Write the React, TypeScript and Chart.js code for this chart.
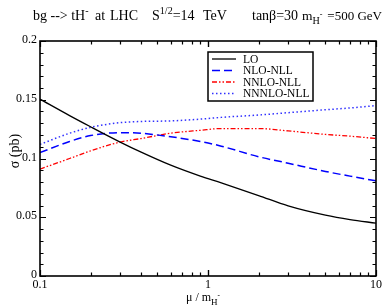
import React, { useEffect, useRef } from "react";
import { Chart, registerables } from "chart.js";

Chart.register(...registerables);

const muValues = [0.1, 0.15, 0.2, 0.3, 0.4, 0.6, 0.9, 1.2, 2, 3, 5, 7, 10];
const loValues = [0.1505, 0.1365, 0.127, 0.114, 0.1054, 0.0943, 0.085, 0.0792, 0.0685, 0.0597, 0.0518, 0.048, 0.045];
const nloValues = [0.105, 0.1145, 0.1195, 0.122, 0.1215, 0.1185, 0.1145, 0.1105, 0.1015, 0.096, 0.089, 0.085, 0.081];
const nnloValues = [0.091, 0.1, 0.1065, 0.114, 0.117, 0.1215, 0.124, 0.1255, 0.1255, 0.1235, 0.1205, 0.119, 0.117];
const nnnloValues = [0.112, 0.1215, 0.1265, 0.1305, 0.1315, 0.132, 0.1335, 0.135, 0.137, 0.139, 0.1415, 0.143, 0.145];

const seriesNames = ["LO", "NLO-NLL", "NNLO-NLL", "NNNLO-NLL"];
const yTickValues = [0, 0.05, 0.1, 0.15, 0.2];
const yTickLabels = ["0", "0.05", "0.1", "0.15", "0.2"];
const xTickValues = [0.1, 1, 10];
const xTickLabels = ["0.1", "1", "10"];

const SERIF = "'Liberation Serif', 'Times New Roman', serif";

type Seg = { t: string; s?: "sup" | "sub" | "supsub" };

function richWidth(ctx: CanvasRenderingContext2D, segs: Seg[], size: number) {
  let w = 0;
  for (const seg of segs) {
    const fs = seg.s === "sup" ? size * 0.72 : seg.s === "sub" ? size * 0.75 : seg.s === "supsub" ? size * 0.6 : size;
    ctx.font = `${fs}px ${SERIF}`;
    w += ctx.measureText(seg.t).width;
  }
  return w;
}

function drawRich(ctx: CanvasRenderingContext2D, x: number, y: number, segs: Seg[], size: number, alignRight = false) {
  let cx = alignRight ? x - richWidth(ctx, segs, size) : x;
  ctx.textAlign = "left";
  ctx.textBaseline = "alphabetic";
  for (const seg of segs) {
    let fs = size;
    let dy = 0;
    if (seg.s === "sup") { fs = size * 0.72; dy = -size * 0.42; }
    else if (seg.s === "sub") { fs = size * 0.75; dy = size * 0.3; }
    else if (seg.s === "supsub") { fs = size * 0.6; dy = -size * 0.25; }
    ctx.font = `${fs}px ${SERIF}`;
    ctx.fillText(seg.t, cx, y + dy);
    cx += ctx.measureText(seg.t).width;
  }
}

const decorPlugin = {
  id: "decor",
  afterDatasetsDraw(chart: any) {
    const { ctx, chartArea: a, scales } = chart;
    const xs = scales.x;
    const ys = scales.y;
    ctx.save();
    ctx.strokeStyle = "#000";
    ctx.fillStyle = "#000";

    // frame
    ctx.lineWidth = 1.6;
    ctx.strokeRect(a.left, a.top, a.right - a.left, a.bottom - a.top);

    // y ticks
    ctx.lineWidth = 1.2;
    for (let i = 0; i <= 20; i++) {
      const v = i * 0.01;
      const py = Math.round(ys.getPixelForValue(v)) + 0.5;
      const major = i % 5 === 0;
      const len = major ? 6 : 3.5;
      ctx.beginPath();
      ctx.moveTo(a.left, py); ctx.lineTo(a.left + len, py);
      ctx.moveTo(a.right, py); ctx.lineTo(a.right - len, py);
      ctx.stroke();
    }
    // x ticks
    for (const dec of [0.1, 1]) {
      for (let k = 1; k <= 10; k++) {
        const v = dec * k;
        const px = Math.round(xs.getPixelForValue(v)) + 0.5;
        const major = k === 1 || k === 10;
        const len = major ? 6 : 3.5;
        ctx.beginPath();
        ctx.moveTo(px, a.bottom); ctx.lineTo(px, a.bottom - len);
        ctx.moveTo(px, a.top); ctx.lineTo(px, a.top + len);
        ctx.stroke();
      }
    }

    // tick labels
    ctx.font = `12px ${SERIF}`;
    ctx.textAlign = "right";
    ctx.textBaseline = "middle";
    yTickValues.forEach((v, i) => {
      ctx.fillText(yTickLabels[i], a.left - 3, ys.getPixelForValue(v) - 1);
    });
    ctx.textAlign = "center";
    ctx.textBaseline = "top";
    xTickValues.forEach((v, i) => {
      ctx.fillText(xTickLabels[i], xs.getPixelForValue(v), a.bottom + 3);
    });

    // title
    const ts = 14;
    drawRich(ctx, 33, 20, [{ t: "bg --> tH" }, { t: "-", s: "sup" }], ts);
    drawRich(ctx, 95, 20, [{ t: "at" }], ts);
    drawRich(ctx, 110, 20, [{ t: "LHC" }], ts);
    drawRich(ctx, 152, 20, [{ t: "S" }, { t: "1/2", s: "sup" }, { t: "=14" }], ts);
    drawRich(ctx, 203, 20, [{ t: "TeV" }], ts);
    drawRich(ctx, 252, 20, [{ t: "tanβ=30" }], ts);
    drawRich(ctx, 302, 20, [{ t: "m" }, { t: "H", s: "sub" }, { t: "-", s: "supsub" }], 13.5);
    drawRich(ctx, 382, 20, [{ t: "=500 GeV" }], 13, true);

    // x axis title
    drawRich(ctx, 186, 301, [{ t: "μ / m" }, { t: "H", s: "sub" }, { t: "-", s: "supsub" }], 12);

    // y axis title
    ctx.save();
    ctx.translate(15, 151);
    ctx.rotate(-Math.PI / 2);
    ctx.font = `14px ${SERIF}`;
    ctx.textAlign = "center";
    ctx.textBaseline = "middle";
    ctx.fillText("σ (pb)", 0, 0);
    ctx.restore();

    // legend
    const lx = 208, ly = 52, lw = 105, lh = 49;
    ctx.fillStyle = "#fff";
    ctx.fillRect(lx, ly, lw, lh);
    ctx.lineWidth = 1.5;
    ctx.strokeStyle = "#000";
    ctx.strokeRect(lx, ly, lw, lh);
    chart.data.datasets.forEach((ds: any, i: number) => {
      const cy = ly + 7 + i * 11.5;
      ctx.save();
      ctx.strokeStyle = ds.borderColor;
      ctx.lineWidth = ds.borderWidth;
      ctx.setLineDash(ds.borderDash || []);
      ctx.beginPath();
      ctx.moveTo(lx + 4, cy);
      ctx.lineTo(lx + 28, cy);
      ctx.stroke();
      ctx.restore();
      ctx.fillStyle = "#000";
      ctx.font = `11.5px ${SERIF}`;
      ctx.textAlign = "left";
      ctx.textBaseline = "middle";
      ctx.fillText(ds.label, lx + 35, cy + 0.5);
    });
    ctx.restore();
  },
};

function pts(vals: number[]) {
  return muValues.map((m, i) => ({ x: m, y: vals[i] }));
}

export default function App() {
  const ref = useRef<HTMLCanvasElement | null>(null);
  useEffect(() => {
    if (!ref.current) return;
    const chart = new Chart(ref.current, {
      type: "line",
      data: {
        datasets: [
          { label: seriesNames[0], data: pts(loValues), borderColor: "#000000", borderWidth: 1.3, borderDash: [] },
          { label: seriesNames[1], data: pts(nloValues), borderColor: "#0000ff", borderWidth: 1.5, borderDash: [8, 4] },
          { label: seriesNames[2], data: pts(nnloValues), borderColor: "#ff0000", borderWidth: 1.3, borderDash: [5, 2, 1.5, 2, 1.5, 2] },
          { label: seriesNames[3], data: pts(nnnloValues), borderColor: "#3030ff", borderWidth: 1.5, borderDash: [1.5, 2.5] },
        ] as any,
      },
      options: {
        responsive: false,
        animation: false,
        devicePixelRatio: 1,
        layout: { padding: { left: 40, right: 7, top: 41, bottom: 31 } },
        elements: {
          point: { radius: 0 },
          line: { tension: 0.4, cubicInterpolationMode: "monotone", fill: false },
        },
        plugins: { legend: { display: false }, tooltip: { enabled: false }, title: { display: false } },
        scales: {
          x: { type: "logarithmic", min: 0.1, max: 10, display: false },
          y: { type: "linear", min: 0, max: 0.2, display: false },
        },
      } as any,
      plugins: [decorPlugin],
    });
    return () => chart.destroy();
  }, []);
  return (
    <div style={{ position: "absolute", left: 0, top: 0, width: 383, height: 307, background: "#fff" }}>
      <canvas ref={ref} width={383} height={307} />
    </div>
  );
}
